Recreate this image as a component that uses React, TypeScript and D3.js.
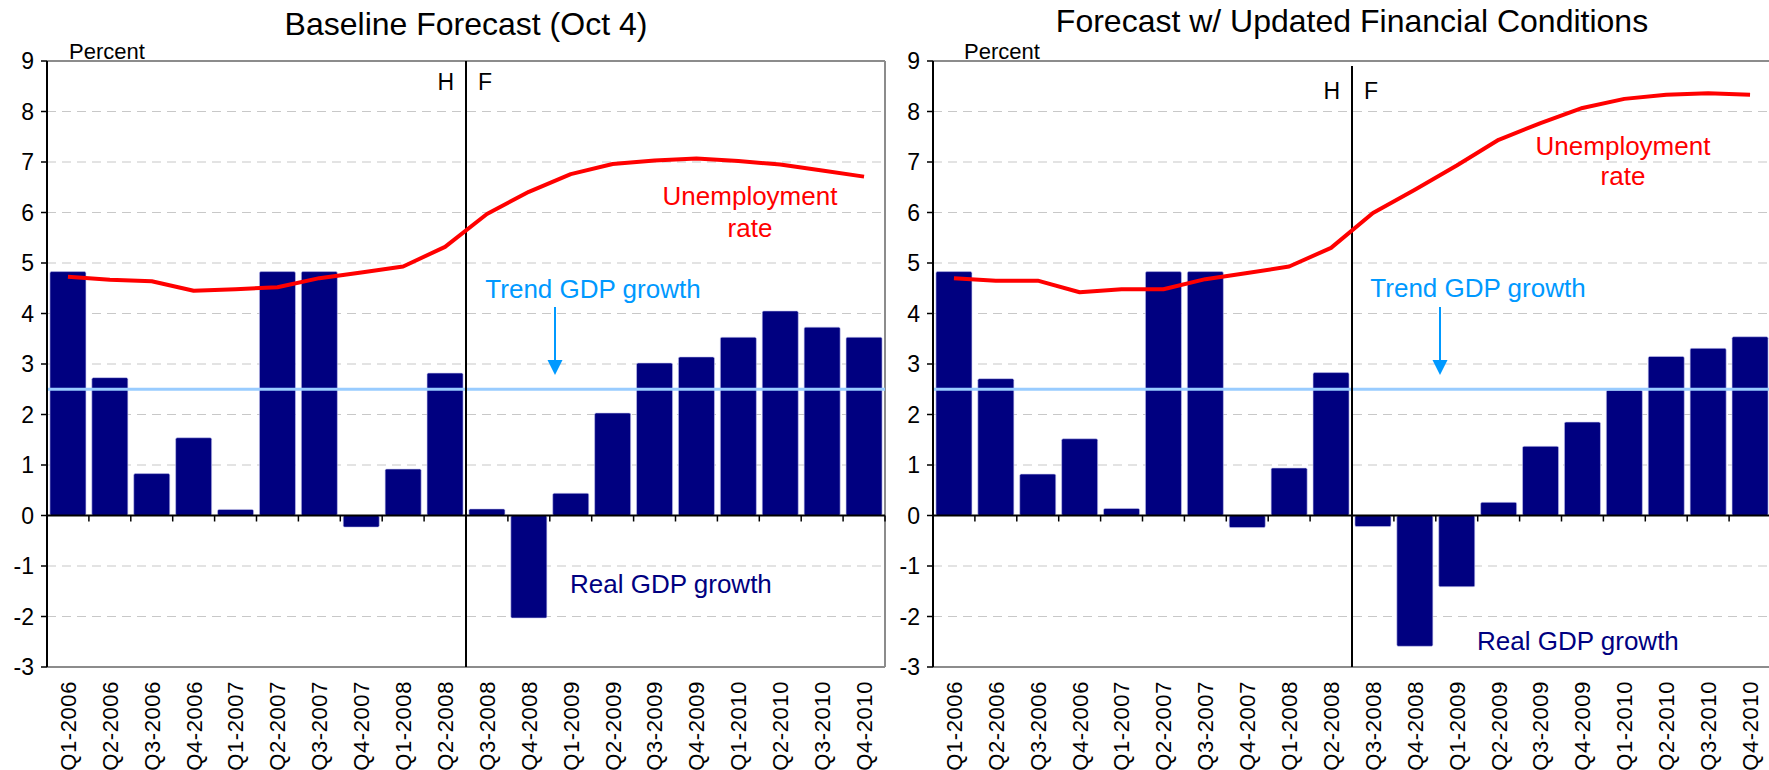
import React from 'react';
import * as d3 from 'd3';

const quarters = [
  'Q1-2006', 'Q2-2006', 'Q3-2006', 'Q4-2006',
  'Q1-2007', 'Q2-2007', 'Q3-2007', 'Q4-2007',
  'Q1-2008', 'Q2-2008', 'Q3-2008', 'Q4-2008',
  'Q1-2009', 'Q2-2009', 'Q3-2009', 'Q4-2009',
  'Q1-2010', 'Q2-2010', 'Q3-2010', 'Q4-2010',
];

const gdpBaseline = [4.83, 2.73, 0.83, 1.54, 0.12, 4.83, 4.83, -0.23, 0.92, 2.82, 0.13, -2.03, 0.44, 2.03, 3.02, 3.14, 3.53, 4.05, 3.73, 3.53];
const gdpUpdated = [4.83, 2.71, 0.82, 1.52, 0.14, 4.83, 4.83, -0.24, 0.94, 2.83, -0.22, -2.59, -1.41, 0.26, 1.37, 1.85, 2.48, 3.15, 3.31, 3.54];

const unempBaseline = [4.73, 4.67, 4.64, 4.45, 4.48, 4.52, 4.70, 4.81, 4.93, 5.32, 5.97, 6.41, 6.76, 6.96, 7.03, 7.07, 7.02, 6.95, 6.83, 6.71];
const unempUpdated = [4.70, 4.65, 4.65, 4.42, 4.48, 4.48, 4.68, 4.80, 4.93, 5.30, 5.99, 6.45, 6.93, 7.44, 7.77, 8.07, 8.25, 8.33, 8.36, 8.33];

const trendGdp = 2.5;
const yTicks = [-3, -2, -1, 0, 1, 2, 3, 4, 5, 6, 7, 8, 9];
const historyCount = 10;

const FONT = '"Liberation Sans", Arial, sans-serif';
const TOP = 61;
const BOTTOM = 667;

type PanelProps = {
  x0: number;
  x1: number;
  title: string;
  titleY: number;
  gdp: number[];
  unemp: number[];
  percentDx: number;
  hfY: number;
  dividerTop: number;
  unempLabel: { dx: number; y: number; gap: number };
  trendLabel: { dx: number; y: number };
  arrowDx: number;
  realLabel: { dx: number; y: number };
};

function Panel(p: PanelProps) {
  const x = d3.scaleBand<string>().domain(quarters).range([p.x0, p.x1]).paddingInner(0.14).paddingOuter(0.07);
  const y = d3.scaleLinear().domain([-3, 9]).range([BOTTOM, TOP]);
  const start = p.x0;
  const cx = (i: number) => (x(quarters[i]) as number) + x.bandwidth() / 2;
  const line = d3.line<number>().x((_, i) => cx(i)).y((d) => y(d));
  const bw = (p.x1 - p.x0) / quarters.length;
  const dividerX = start + historyCount * bw;
  const midX = (p.x0 + p.x1) / 2;

  return (
    <g>
      <text x={midX} y={p.titleY} textAnchor="middle" fontSize={32} fontFamily={FONT} fill="#000">{p.title}</text>
      {yTicks.filter((t) => t !== -3 && t !== 9 && t !== 0).map((t) => (
        <line key={t} x1={p.x0} x2={p.x1} y1={y(t)} y2={y(t)} stroke="#c8c8c8" strokeWidth={1.2} strokeDasharray="9,6" />
      ))}
      <line x1={p.x0} x2={p.x1} y1={TOP} y2={TOP} stroke="#8c8c8c" strokeWidth={2} />
      <line x1={p.x1} x2={p.x1} y1={TOP} y2={BOTTOM} stroke="#8c8c8c" strokeWidth={2} />
      <line x1={p.x0} x2={p.x1} y1={BOTTOM} y2={BOTTOM} stroke="#8c8c8c" strokeWidth={2} />
      {p.gdp.map((v, i) => (
        <rect key={i} x={x(quarters[i])} width={x.bandwidth()} y={Math.min(y(v), y(0))} height={Math.abs(y(v) - y(0))} fill="#000080" stroke="#c8c8f0" strokeWidth={0.6} rx={1.5} />
      ))}
      <line x1={p.x0} x2={p.x1} y1={y(trendGdp)} y2={y(trendGdp)} stroke="#99ccff" strokeWidth={3} />
      <line x1={p.x0} x2={p.x1} y1={y(0)} y2={y(0)} stroke="#000" strokeWidth={2} />
      {d3.range(quarters.length + 1).map((i) => (
        <line key={i} x1={start + i * bw} x2={start + i * bw} y1={y(0)} y2={y(0) + 6} stroke="#000" strokeWidth={1.5} />
      ))}
      <line x1={p.x0} x2={p.x0} y1={TOP} y2={BOTTOM} stroke="#000" strokeWidth={2} />
      {yTicks.map((t) => (
        <g key={t}>
          <line x1={p.x0 - 6} x2={p.x0} y1={y(t)} y2={y(t)} stroke="#000" strokeWidth={1.5} />
          <text x={p.x0 - 13} y={y(t)} dy="0.36em" textAnchor="end" fontSize={23} fontFamily={FONT} fill="#000">{t}</text>
        </g>
      ))}
      <text x={p.x0 + p.percentDx} y={59} fontSize={22} fontFamily={FONT} fill="#000">Percent</text>
      <line x1={dividerX} x2={dividerX} y1={p.dividerTop} y2={BOTTOM} stroke="#000" strokeWidth={2} />
      <text x={dividerX - 12} y={p.hfY} textAnchor="end" fontSize={23} fontFamily={FONT} fill="#000">H</text>
      <text x={dividerX + 12} y={p.hfY} textAnchor="start" fontSize={23} fontFamily={FONT} fill="#000">F</text>
      <path d={line(p.unemp) || ''} fill="none" stroke="#ff0000" strokeWidth={4} strokeLinejoin="round" />
      {quarters.map((q, i) => (
        <text key={q} transform={`translate(${cx(i)},${681}) rotate(-90)`} textAnchor="end" dy="0.36em" fontSize={22} letterSpacing={0.6} fontFamily={FONT} fill="#000">{q}</text>
      ))}
      <text x={p.x0 + p.unempLabel.dx} y={p.unempLabel.y} textAnchor="middle" fontSize={26} fontFamily={FONT} fill="#ff0000">Unemployment</text>
      <text x={p.x0 + p.unempLabel.dx} y={p.unempLabel.y + p.unempLabel.gap} textAnchor="middle" fontSize={26} fontFamily={FONT} fill="#ff0000">rate</text>
      <text x={p.x0 + p.trendLabel.dx} y={p.trendLabel.y} textAnchor="middle" fontSize={26} fontFamily={FONT} fill="#0099ff">Trend GDP growth</text>
      <line x1={p.x0 + p.arrowDx} x2={p.x0 + p.arrowDx} y1={307} y2={362} stroke="#0099ff" strokeWidth={2} />
      <path d={`M${p.x0 + p.arrowDx - 7.5},360 L${p.x0 + p.arrowDx + 7.5},360 L${p.x0 + p.arrowDx},375 Z`} fill="#0099ff" />
      <text x={p.x0 + p.realLabel.dx} y={p.realLabel.y} textAnchor="start" fontSize={26} fontFamily={FONT} fill="#000080">Real GDP growth</text>
    </g>
  );
}

export default function App() {
  return (
    <svg width={1769} height={770} style={{ position: 'absolute', left: 0, top: 0, background: '#fff' }}>
      <rect x={0} y={0} width={1769} height={770} fill="#fff" />
      <Panel
        x0={47} x1={885} title="Baseline Forecast (Oct 4)" titleY={35}
        gdp={gdpBaseline} unemp={unempBaseline}
        percentDx={22} hfY={90} dividerTop={61}
        unempLabel={{ dx: 703, y: 205, gap: 32 }}
        trendLabel={{ dx: 546, y: 298 }}
        arrowDx={508}
        realLabel={{ dx: 523, y: 593 }}
      />
      <Panel
        x0={933} x1={1771} title="Forecast w/ Updated Financial Conditions" titleY={32}
        gdp={gdpUpdated} unemp={unempUpdated}
        percentDx={31} hfY={99} dividerTop={66}
        unempLabel={{ dx: 690, y: 155, gap: 30 }}
        trendLabel={{ dx: 545, y: 297 }}
        arrowDx={507}
        realLabel={{ dx: 544, y: 650 }}
      />
    </svg>
  );
}
